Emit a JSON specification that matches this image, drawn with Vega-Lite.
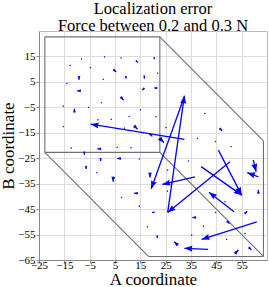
{
  "$schema": "https://vega.github.io/schema/vega-lite/v6.json",
  "width": 228,
  "height": 229,
  "autosize": {"type": "none"},
  "padding": {"left": 39, "top": 31, "right": 2, "bottom": 27},
  "config": {
    "view": {"stroke": "#bbbbbb", "strokeWidth": 1},
    "font": "Liberation Serif",
    "axis": {
      "labelFont": "Liberation Serif", "labelFontSize": 11, "labelColor": "#000000",
      "titleFont": "Liberation Serif", "titleFontSize": 17, "titleFontWeight": "normal", "titleColor": "#000000",
      "gridColor": "#dcdcdc", "gridWidth": 1, "domainColor": "#888888", "tickColor": "#888888", "tickSize": 3,
      "labelOverlap": false, "labelFlush": false, "tickCount": 30
    }
  },
  "title": {
    "text": ["Localization error", "Force between 0.2 and 0.3 N"],
    "font": "Liberation Serif", "fontSize": 16.5, "fontWeight": "normal", "lineHeight": 16.5,
    "anchor": "middle", "offset": -3, "color": "#000000"
  },
  "datasets": {
    "cube": [
      {"a": -22.7, "b": 22.7, "a2": 22.7, "b2": 22.7},
      {"a": 22.7, "b": 22.7, "a2": 63.6, "b2": -18.2},
      {"a": 63.6, "b": -18.2, "a2": 63.6, "b2": -63.6},
      {"a": 63.6, "b": -63.6, "a2": 18.2, "b2": -63.6},
      {"a": 18.2, "b": -63.6, "a2": -22.7, "b2": -22.7},
      {"a": -22.7, "b": -22.7, "a2": -22.7, "b2": 22.7},
      {"a": 22.7, "b": -22.7, "a2": 22.7, "b2": 22.7},
      {"a": 22.7, "b": -22.7, "a2": -22.7, "b2": -22.7},
      {"a": 22.7, "b": -22.7, "a2": 63.6, "b2": -63.6}
    ],
    "arrows": [
      {"a": -8.35, "b": 14.15, "a2": -8.05, "b2": 13.85},
      {"a": 0.75, "b": 14.95, "a2": 1.05, "b2": 14.65},
      {"a": 7.25, "b": 14.55, "a2": 7.55, "b2": 14.25},
      {"a": 13.25, "b": 13.35, "a2": 13.95, "b2": 12.65},
      {"a": 20.5, "b": 14.7, "a2": 20.5, "b2": 13.9},
      {"a": -12.85, "b": 11.65, "a2": -12.55, "b2": 11.35},
      {"a": -4.85, "b": 10.75, "a2": -4.55, "b2": 10.45},
      {"a": 4.37, "b": 9.93, "a2": 5.43, "b2": 8.87},
      {"a": 21.65, "b": 8.55, "a2": 21.95, "b2": 8.25},
      {"a": -9.2, "b": 7.35, "a2": -9.2, "b2": 5.85},
      {"a": 0.25, "b": 6.15, "a2": 0.55, "b2": 5.85},
      {"a": 9.3, "b": 7.3, "a2": 9.3, "b2": 6.3},
      {"a": 16.6, "b": 7.5, "a2": 16.6, "b2": 6.3},
      {"a": -14.15, "b": 4.55, "a2": -13.85, "b2": 4.25},
      {"a": -8.45, "b": 1.5, "a2": -9.95, "b2": 1.5},
      {"a": 16.6, "b": 2.6, "a2": 15.8, "b2": 1.8},
      {"a": 21.7, "b": 2.6, "a2": 20.5, "b2": 2.6},
      {"a": 7.2, "b": -0.9, "a2": 8.4, "b2": -2.1},
      {"a": -0.55, "b": -3.05, "a2": -0.25, "b2": -3.35},
      {"a": -15.55, "b": -4.35, "a2": -15.25, "b2": -4.65},
      {"a": -5.55, "b": -4.85, "a2": -5.25, "b2": -5.15},
      {"a": -11.0, "b": -7.05, "a2": -11.0, "b2": -5.55},
      {"a": 14.85, "b": -5.85, "a2": 15.15, "b2": -6.15},
      {"a": -15.55, "b": -12.45, "a2": -15.25, "b2": -12.75},
      {"a": -1.85, "b": -9.75, "a2": -1.55, "b2": -10.05},
      {"a": 3.35, "b": -9.55, "a2": 3.65, "b2": -9.85},
      {"a": 10.45, "b": -8.45, "a2": 10.75, "b2": -8.75},
      {"a": 21.05, "b": -8.55, "a2": 21.35, "b2": -8.85},
      {"a": 24.95, "b": -12.85, "a2": 25.25, "b2": -13.15},
      {"a": 12.5, "b": -12.2, "a2": 13.9, "b2": -13.6},
      {"a": 8.55, "b": -13.05, "a2": 8.85, "b2": -13.35},
      {"a": 18.7, "b": -15.4, "a2": 19.7, "b2": -16.4},
      {"a": 22.5, "b": -17.0, "a2": 24.3, "b2": -18.8},
      {"a": 40.35, "b": -7.25, "a2": 40.65, "b2": -7.55},
      {"a": 46.3, "b": -13.2, "a2": 47.3, "b2": -14.2},
      {"a": 37.35, "b": -17.05, "a2": 37.65, "b2": -17.35},
      {"a": 44.55, "b": -18.35, "a2": 44.85, "b2": -18.65},
      {"a": 50.65, "b": -20.35, "a2": 50.95, "b2": -20.65},
      {"a": -12.45, "b": -20.85, "a2": -12.15, "b2": -21.15},
      {"a": -0.45, "b": -21.3, "a2": -1.95, "b2": -21.3},
      {"a": 5.75, "b": -20.55, "a2": 6.05, "b2": -20.85},
      {"a": 11.15, "b": -20.75, "a2": 11.45, "b2": -21.05},
      {"a": -7.1, "b": -22.4, "a2": -7.1, "b2": -23.6},
      {"a": -0.7, "b": -24.9, "a2": -0.7, "b2": -26.1},
      {"a": 7.35, "b": -25.1, "a2": 5.85, "b2": -25.1},
      {"a": 14.45, "b": -25.15, "a2": 14.75, "b2": -25.45},
      {"a": -6.4, "b": -28.0, "a2": -6.4, "b2": -29.2},
      {"a": -2.35, "b": -30.55, "a2": -2.05, "b2": -30.85},
      {"a": 4.3, "b": -32.2, "a2": 4.3, "b2": -34.2},
      {"a": 18.8, "b": -30.6, "a2": 18.8, "b2": -32.6},
      {"a": 25.65, "b": -29.55, "a2": 25.95, "b2": -29.85},
      {"a": 33.85, "b": -25.95, "a2": 34.15, "b2": -26.25},
      {"a": 7.45, "b": -40.25, "a2": 7.75, "b2": -40.55},
      {"a": 14.05, "b": -38.8, "a2": 12.55, "b2": -38.8},
      {"a": 14.45, "b": -43.65, "a2": 14.75, "b2": -43.95},
      {"a": 20.6, "b": -46.3, "a2": 19.6, "b2": -46.3},
      {"a": 17.65, "b": -51.85, "a2": 17.95, "b2": -52.15},
      {"a": 21.7, "b": -55.4, "a2": 21.7, "b2": -56.4},
      {"a": 29.8, "b": -59.2, "a2": 28.4, "b2": -57.8},
      {"a": 37.05, "b": -48.3, "a2": 35.55, "b2": -48.3},
      {"a": 39.75, "b": -51.55, "a2": 40.05, "b2": -51.85},
      {"a": 35.15, "b": -55.05, "a2": 35.45, "b2": -55.35},
      {"a": 44.55, "b": -46.15, "a2": 44.85, "b2": -46.45},
      {"a": 48.25, "b": -41.95, "a2": 48.55, "b2": -42.25},
      {"a": 49.2, "b": -49.7, "a2": 50.2, "b2": -50.7},
      {"a": 56.2, "b": -46.8, "a2": 57.2, "b2": -45.8},
      {"a": 61.6, "b": -38.95, "a2": 61.6, "b2": -37.45},
      {"a": 56.15, "b": -54.45, "a2": 56.45, "b2": -54.75},
      {"a": 48.95, "b": -56.75, "a2": 49.25, "b2": -57.05},
      {"a": 52.3, "b": -62.5, "a2": 53.7, "b2": -61.1},
      {"a": 57.8, "b": -60.0, "a2": 58.8, "b2": -61.0},
      {"a": 25.55, "b": -37.75, "a2": 25.85, "b2": -38.05},
      {"a": 32.4, "b": -17.6, "a2": -4.6, "b2": -11.6},
      {"a": 25.8, "b": -46.3, "a2": 32.4, "b2": -0.4},
      {"a": 32.2, "b": -1.2, "a2": 19.3, "b2": -37.0},
      {"a": 36.6, "b": -32.3, "a2": 23.7, "b2": -35.3},
      {"a": 50.4, "b": -26.4, "a2": 25.8, "b2": -46.3},
      {"a": 45.8, "b": -21.8, "a2": 55.0, "b2": -39.5},
      {"a": 39.0, "b": -28.3, "a2": 55.0, "b2": -39.5},
      {"a": 52.0, "b": -46.0, "a2": 42.1, "b2": -38.4},
      {"a": 61.0, "b": -50.0, "a2": 39.2, "b2": -56.9},
      {"a": 41.8, "b": -60.8, "a2": 32.4, "b2": -60.4},
      {"a": 59.6, "b": -25.7, "a2": 60.7, "b2": -30.3},
      {"a": 61.6, "b": -32.3, "a2": 57.2, "b2": -30.7}
    ]
  },
  "layer": [
    {
      "data": {"name": "cube"},
      "mark": {"type": "rule", "color": "#707070", "strokeWidth": 1.1},
      "encoding": {
        "x": {"field": "a", "type": "quantitative",
              "scale": {"domain": [-25, 65], "nice": false, "zero": false},
              "axis": {"title": "A coordinate", "values": [-25, -15, -5, 5, 15, 25, 35, 45, 55], "tickCount": 30, "labelPadding": -4, "titlePadding": 1, "labelFlush": false, "labelOverlap": false}},
        "y": {"field": "b", "type": "quantitative",
              "scale": {"domain": [-65, 25], "nice": false, "zero": false},
              "axis": {"title": "B coordinate", "values": [-65, -55, -45, -35, -25, -15, -5, 5, 15], "tickCount": 30, "labelPadding": 1, "titlePadding": 0, "labelFlush": false, "labelOverlap": false}},
        "x2": {"field": "a2"},
        "y2": {"field": "b2"}
      }
    },
    {
      "data": {"name": "arrows"},
      "mark": {"type": "rule", "color": "#0000ff", "strokeWidth": 1.3},
      "encoding": {
        "x": {"field": "a", "type": "quantitative"},
        "y": {"field": "b", "type": "quantitative"},
        "x2": {"field": "a2"},
        "y2": {"field": "b2"}
      }
    },
    {
      "data": {"name": "arrows"},
      "transform": [
        {"calculate": "sqrt(pow(datum.a2 - datum.a, 2) + pow(datum.b2 - datum.b, 2))", "as": "len"},
        {"calculate": "90 - atan2(datum.b2 - datum.b, datum.a2 - datum.a) * 180 / PI", "as": "ang"}
      ],
      "mark": {"type": "point", "shape": "M0,0L-0.38,1L0,0.88L0.38,1Z", "filled": true, "color": "#0000ff", "opacity": 1, "strokeWidth": 0},
      "encoding": {
        "x": {"field": "a2", "type": "quantitative"},
        "y": {"field": "b2", "type": "quantitative"},
        "angle": {"field": "ang", "type": "quantitative", "scale": null},
        "size": {"field": "len", "type": "quantitative", "scale": {"type": "pow", "exponent": 2, "domain": [0, 3.2], "range": [0, 256], "clamp": true}, "legend": null}
      }
    }
  ]
}
